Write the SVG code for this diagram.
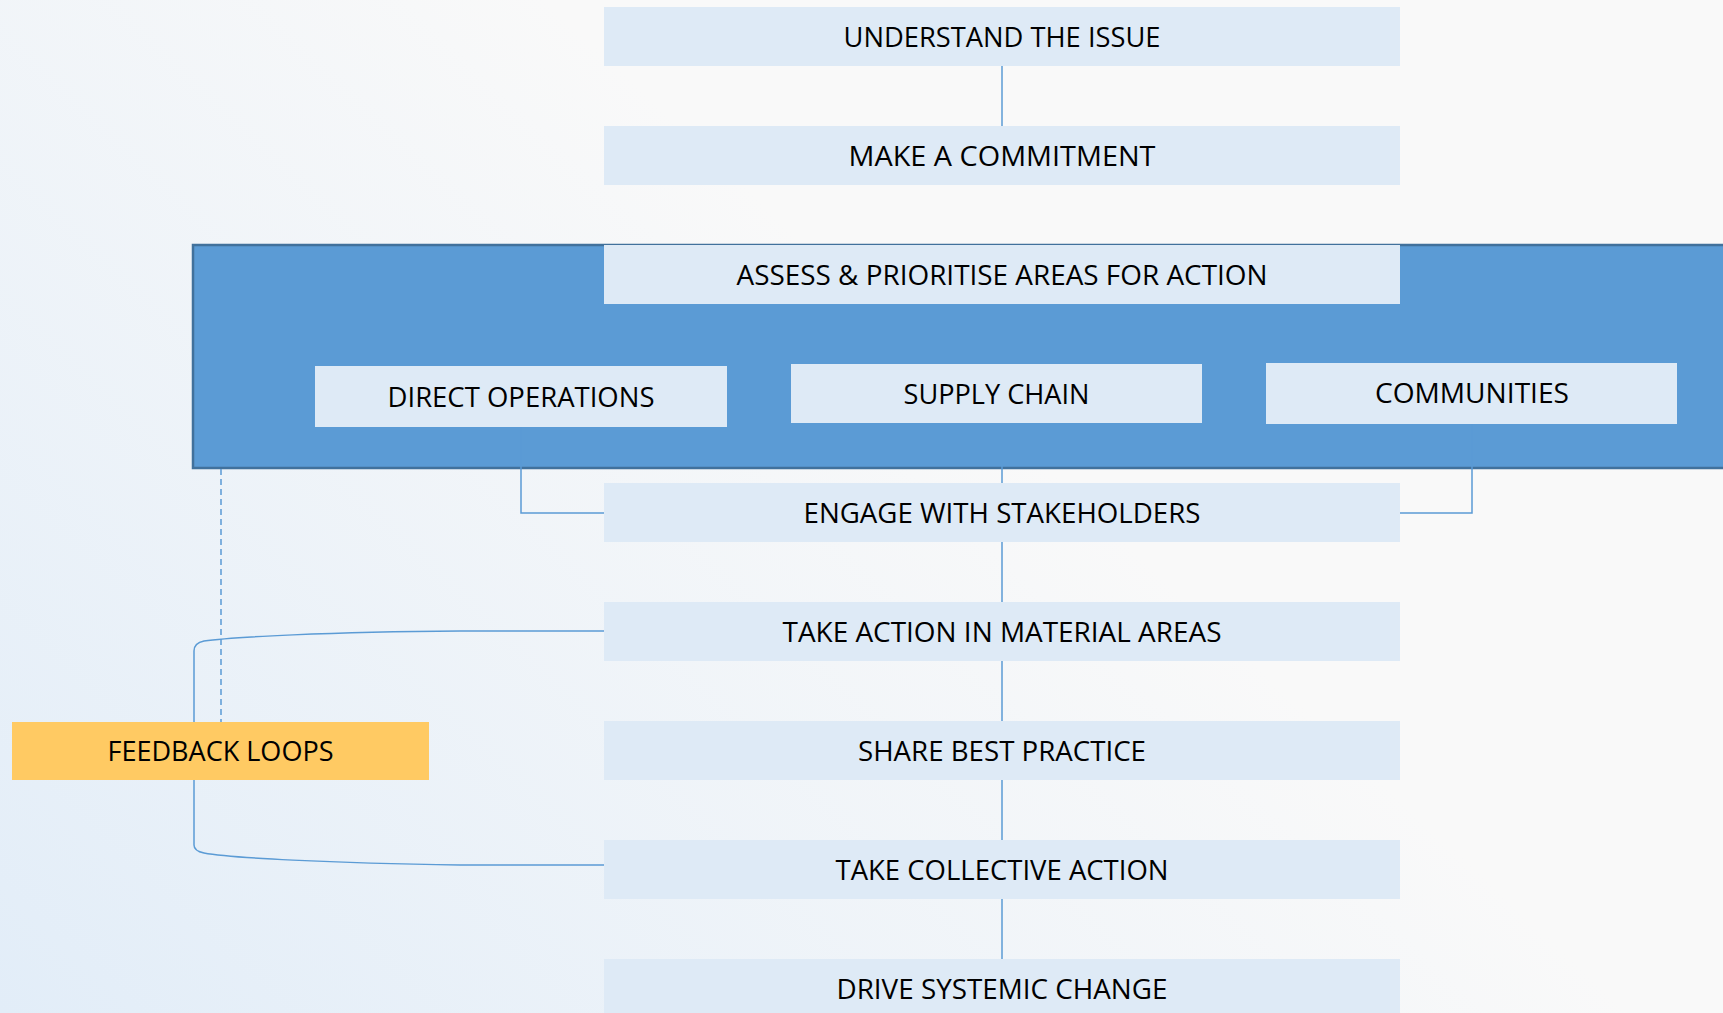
<svg xmlns="http://www.w3.org/2000/svg" width="1723" height="1013" viewBox="0 0 1723 1013">
<defs>
<linearGradient id="bg" gradientUnits="userSpaceOnUse" x1="0" y1="1013" x2="760" y2="200">
<stop offset="0" stop-color="#E2EDF8"/>
<stop offset="1" stop-color="#F9F9F9"/>
</linearGradient>
<style>
.box{fill:#DEEAF6}
.lbl{font-family:"Open Sans","Noto Sans","Liberation Sans",sans-serif;font-size:28px;fill:#000;text-anchor:middle}
.con{fill:none;stroke:#5B9BD5;stroke-width:1.5}
</style>
</defs>
<rect x="0" y="0" width="1723" height="1013" fill="url(#bg)"/>
<g id="group-assess-container">
<rect x="193" y="245" width="1540" height="223" fill="#5B9BD5" stroke="#41719C" stroke-width="2.5"/>
</g>
<g id="connectors">
<line class="con" x1="1002" y1="66" x2="1002" y2="126"/>
<line class="con" x1="1002" y1="304" x2="1002" y2="483"/>
<polyline class="con" points="521,427 521,513 604,513"/>
<polyline class="con" points="1472,423 1472,513 1400,513"/>
<line class="con" x1="1002" y1="542" x2="1002" y2="602"/>
<line class="con" x1="1002" y1="661" x2="1002" y2="721"/>
<line class="con" x1="1002" y1="780" x2="1002" y2="840"/>
<line class="con" x1="1002" y1="899" x2="1002" y2="959"/>
<path class="con" d="M604,631 L460,631 C330,632 230,637 204,641 Q194,643 194,651 L194,845 Q194,851 204,853 C230,858 330,863 460,865 L604,865"/>
<line class="con" x1="221" y1="469" x2="221" y2="722" stroke-dasharray="6,4" stroke-width="1.2"/>
</g>
<g id="node-understand">
<rect class="box" x="604" y="7" width="796" height="59"/>
<text class="lbl" x="1002" y="46.5" textLength="317" lengthAdjust="spacingAndGlyphs">UNDERSTAND THE ISSUE</text>
</g>
<g id="node-commitment">
<rect class="box" x="604" y="126" width="796" height="59"/>
<text class="lbl" x="1002" y="165.5" textLength="307" lengthAdjust="spacingAndGlyphs">MAKE A COMMITMENT</text>
</g>
<g id="node-assess">
<rect class="box" x="604" y="245" width="796" height="59"/>
<text class="lbl" x="1002" y="284.5" textLength="531" lengthAdjust="spacingAndGlyphs">ASSESS &amp; PRIORITISE AREAS FOR ACTION</text>
</g>
<g id="node-direct">
<rect class="box" x="315" y="366" width="412" height="61"/>
<text class="lbl" x="521" y="406.5" textLength="267" lengthAdjust="spacingAndGlyphs">DIRECT OPERATIONS</text>
</g>
<g id="node-supply">
<rect class="box" x="791" y="364" width="411" height="59"/>
<text class="lbl" x="996.5" y="403.5" textLength="186" lengthAdjust="spacingAndGlyphs">SUPPLY CHAIN</text>
</g>
<g id="node-communities">
<rect class="box" x="1266" y="363" width="411" height="61"/>
<text class="lbl" x="1472" y="403" textLength="194" lengthAdjust="spacingAndGlyphs">COMMUNITIES</text>
</g>
<g id="node-engage">
<rect class="box" x="604" y="483" width="796" height="59"/>
<text class="lbl" x="1002" y="522.5" textLength="397" lengthAdjust="spacingAndGlyphs">ENGAGE WITH STAKEHOLDERS</text>
</g>
<g id="node-action">
<rect class="box" x="604" y="602" width="796" height="59"/>
<text class="lbl" x="1002" y="641.5" textLength="439" lengthAdjust="spacingAndGlyphs">TAKE ACTION IN MATERIAL AREAS</text>
</g>
<g id="node-share">
<rect class="box" x="604" y="721" width="796" height="59"/>
<text class="lbl" x="1002" y="760.5" textLength="288" lengthAdjust="spacingAndGlyphs">SHARE BEST PRACTICE</text>
</g>
<g id="node-collective">
<rect class="box" x="604" y="840" width="796" height="59"/>
<text class="lbl" x="1002" y="879.5" textLength="333" lengthAdjust="spacingAndGlyphs">TAKE COLLECTIVE ACTION</text>
</g>
<g id="node-drive">
<rect class="box" x="604" y="959" width="796" height="59"/>
<text class="lbl" x="1002" y="998.5" textLength="331" lengthAdjust="spacingAndGlyphs">DRIVE SYSTEMIC CHANGE</text>
</g>
<g id="node-feedback">
<rect x="12" y="722" width="417" height="58" fill="#FFCA63"/>
<text class="lbl" x="220.5" y="761" textLength="226" lengthAdjust="spacingAndGlyphs">FEEDBACK LOOPS</text>
</g>
</svg>
